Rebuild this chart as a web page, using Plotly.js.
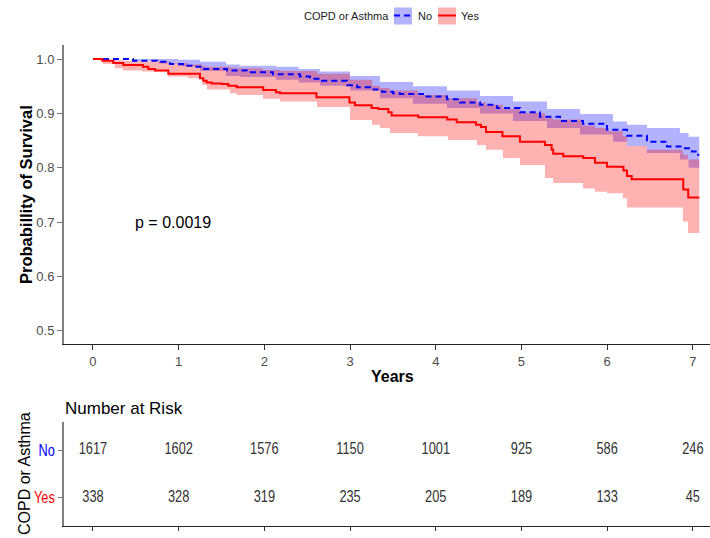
<!DOCTYPE html>
<html>
<head>
<meta charset="utf-8">
<script src="https://cdn.plot.ly/plotly-3.0.1.min.js"></script>
<style>
  html, body { margin: 0; padding: 0; background: #fff; }
  #chart { width: 710px; height: 538px; }
</style>
</head>
<body>
<div id="chart"></div>
<script>
// Kaplan-Meier estimates, group "No" (no COPD or asthma)
const noTime = [0, 0.467, 0.747, 0.898, 1.050, 1.167, 1.284, 1.564, 1.797, 2.100, 2.415, 2.532, 2.672, 2.964, 3.081, 3.232, 3.372, 3.501, 3.582, 3.851, 4.131, 4.282, 4.516, 4.714, 4.982, 5.216, 5.450, 5.718, 5.998, 6.231, 6.464, 6.698, 6.884, 6.989, 7.060, 7.075];
const noSurv = [1.000, 0.997, 0.995, 0.991, 0.988, 0.986, 0.982, 0.979, 0.976, 0.972, 0.968, 0.964, 0.960, 0.952, 0.948, 0.944, 0.940, 0.937, 0.936, 0.931, 0.926, 0.920, 0.916, 0.910, 0.902, 0.894, 0.886, 0.881, 0.870, 0.859, 0.848, 0.839, 0.836, 0.830, 0.824, 0.824];

// 95% confidence band, group "No"
const noBandTime = [0, 0.467, 0.760, 0.992, 1.250, 1.552, 1.715, 2.135, 2.400, 2.649, 3.000, 3.349, 3.734, 4.131, 4.516, 4.901, 5.298, 5.683, 6.068, 6.231, 6.464, 6.849, 6.950, 7.075];
const noUpper = [1.000, 1.000, 1.000, 0.999, 0.995, 0.990, 0.988, 0.986, 0.982, 0.977, 0.969, 0.958, 0.950, 0.942, 0.932, 0.922, 0.908, 0.899, 0.885, 0.879, 0.873, 0.864, 0.857, 0.855];
const noLower = [1.000, 0.997, 0.992, 0.987, 0.978, 0.969, 0.967, 0.962, 0.957, 0.951, 0.942, 0.928, 0.918, 0.910, 0.900, 0.886, 0.873, 0.861, 0.848, 0.840, 0.827, 0.815, 0.800, 0.796];

// Kaplan-Meier estimates, group "Yes" (COPD or asthma)
const yesTime = [0, 0.109, 0.237, 0.354, 0.583, 0.645, 0.723, 0.879, 1.249, 1.287, 1.327, 1.385, 1.502, 1.579, 1.677, 1.987, 2.135, 2.182, 2.608, 2.993, 3.057, 3.252, 3.329, 3.446, 3.485, 3.796, 4.134, 4.244, 4.469, 4.527, 4.586, 4.778, 4.982, 5.274, 5.352, 5.371, 5.488, 5.721, 5.858, 5.998, 6.190, 6.231, 6.286, 6.888, 6.946, 7.075];
const yesSurv = [1.000, 0.997, 0.993, 0.989, 0.986, 0.982, 0.979, 0.973, 0.965, 0.960, 0.957, 0.955, 0.954, 0.951, 0.948, 0.943, 0.939, 0.937, 0.930, 0.920, 0.915, 0.910, 0.908, 0.902, 0.896, 0.893, 0.889, 0.884, 0.879, 0.875, 0.866, 0.858, 0.848, 0.842, 0.833, 0.826, 0.821, 0.818, 0.809, 0.802, 0.795, 0.785, 0.779, 0.760, 0.745, 0.745];

// 95% confidence band, group "Yes"
const yesBandTime = [0, 0.117, 0.257, 0.350, 0.572, 0.875, 1.109, 1.272, 1.330, 1.599, 1.680, 1.984, 2.182, 2.614, 3.000, 3.256, 3.349, 3.466, 3.792, 4.142, 4.481, 4.586, 4.784, 4.982, 5.274, 5.368, 5.718, 5.858, 5.998, 6.184, 6.231, 6.464, 6.884, 6.943, 7.075];
const yesUpper = [1.000, 0.999, 0.998, 0.997, 0.996, 0.993, 0.990, 0.987, 0.986, 0.984, 0.983, 0.980, 0.978, 0.973, 0.962, 0.951, 0.947, 0.942, 0.934, 0.928, 0.920, 0.916, 0.908, 0.901, 0.892, 0.889, 0.878, 0.873, 0.867, 0.858, 0.840, 0.833, 0.824, 0.815, 0.815];
const yesLower = [1.000, 0.991, 0.983, 0.979, 0.977, 0.968, 0.965, 0.953, 0.944, 0.937, 0.934, 0.927, 0.922, 0.912, 0.888, 0.879, 0.873, 0.864, 0.858, 0.851, 0.842, 0.833, 0.818, 0.805, 0.781, 0.772, 0.762, 0.756, 0.753, 0.744, 0.727, 0.727, 0.701, 0.680, 0.680];

// Number at risk table
const riskTimes = [0, 1, 2, 3, 4, 5, 6, 7];
const riskNo = [1617, 1602, 1576, 1150, 1001, 925, 586, 246];
const riskYes = [338, 328, 319, 235, 205, 189, 133, 45];
const groupLabels = ["No", "Yes"];
const pValueText = "p = 0.0019";

const W = 710, H = 538;
const PX = p => p / W;          // page pixel -> paper x
const PY = p => 1 - p / H;      // page pixel -> paper y

const BASE_FONT = "Liberation Sans, Arial, sans-serif";
const BLUE = "#0000ff", RED = "#ff0000";
const BLUE_FILL = "rgba(0,0,255,0.30)", RED_FILL = "rgba(255,0,0,0.30)";

function band(t, lo, hi, fill) {
  return [
    { x: t, y: lo, mode: "lines", line: { width: 0, shape: "hv" }, hoverinfo: "skip", showlegend: false, xaxis: "x", yaxis: "y" },
    { x: t, y: hi, mode: "lines", line: { width: 0, shape: "hv" }, fill: "tonexty", fillcolor: fill, hoverinfo: "skip", showlegend: false, xaxis: "x", yaxis: "y" }
  ];
}

const tableFont = { family: BASE_FONT, size: 16, color: "#333333" };

const traces = [
  ...band(noBandTime, noLower, noUpper, BLUE_FILL),
  ...band(yesBandTime, yesLower, yesUpper, RED_FILL),
  { x: noTime, y: noSurv, mode: "lines", name: groupLabels[0], line: { color: BLUE, width: 2, dash: "6px,4px", shape: "hv" }, showlegend: false, xaxis: "x", yaxis: "y" },
  { x: yesTime, y: yesSurv, mode: "lines", name: groupLabels[1], line: { color: RED, width: 2, shape: "hv" }, showlegend: false, xaxis: "x", yaxis: "y" },
  // risk table cells
  { x: riskTimes, y: riskTimes.map(() => 2), text: riskNo.map(String), mode: "text", textposition: "middle center",
    textfont: tableFont, hoverinfo: "skip", showlegend: false, xaxis: "x2", yaxis: "y2" },
  { x: riskTimes, y: riskTimes.map(() => 1), text: riskYes.map(String), mode: "text", textposition: "middle center",
    textfont: tableFont, hoverinfo: "skip", showlegend: false, xaxis: "x2", yaxis: "y2" }
];

const xRange = [-0.338, 7.2];

function label(text, x, y, font, extra) {
  return Object.assign({ text, xref: "paper", yref: "paper", x: PX(x), y: PY(y),
    xanchor: "center", yanchor: "middle", showarrow: false, font }, extra || {});
}

const layout = {
  width: W, height: H,
  margin: { l: 0, r: 0, t: 0, b: 0 },
  paper_bgcolor: "#ffffff", plot_bgcolor: "#ffffff",
  font: { family: BASE_FONT, color: "#000000" },
  showlegend: false,
  xaxis: {
    domain: [PX(64), 1], range: xRange, anchor: "y",
    tickmode: "array", tickvals: riskTimes, ticktext: riskTimes.map(String),
    ticks: "outside", ticklen: 5, tickcolor: "#333333", tickwidth: 1,
    tickfont: { size: 13, color: "#4d4d4d" },
    showline: true, linecolor: "#222222", linewidth: 1,
    showgrid: false, zeroline: false
  },
  yaxis: {
    domain: [PY(344), PY(45)], range: [0.4755, 1.026], anchor: "x",
    tickmode: "array", tickvals: [0.5, 0.6, 0.7, 0.8, 0.9, 1.0], ticktext: ["0.5", "0.6", "0.7", "0.8", "0.9", "1.0"],
    ticks: "outside", ticklen: 5, tickcolor: "#777777", tickwidth: 1,
    tickfont: { size: 13, color: "#4d4d4d" },
    showline: true, linecolor: "#7f7f7f", linewidth: 2,
    showgrid: false, zeroline: false
  },
  xaxis2: {
    domain: [PX(64), 1], range: xRange, anchor: "y2",
    tickmode: "array", tickvals: riskTimes, showticklabels: false,
    ticks: "outside", ticklen: 4, tickcolor: "#333333", tickwidth: 1,
    showline: true, linecolor: "#222222", linewidth: 1,
    showgrid: false, zeroline: false
  },
  yaxis2: {
    domain: [PY(526), PY(422)], range: [0.4, 2.6], anchor: "x2",
    tickmode: "array", tickvals: [2, 1],
    ticktext: ['<span style="color:' + BLUE + '">' + groupLabels[0] + '</span>', '<span style="color:' + RED + '">' + groupLabels[1] + '</span>'],
    ticks: "outside", ticklen: 4, tickcolor: "#777777", tickwidth: 1,
    tickfont: { size: 16 },
    showline: true, linecolor: "#7f7f7f", linewidth: 2,
    showgrid: false, zeroline: false
  },
  annotations: [
    label("Probabillity of Survival", 26, 195, { size: 16.5, weight: "bold", color: "#000" }, { textangle: -90 }),
    label("Years", 392, 376, { size: 16, weight: "bold", color: "#000" }),
    { text: pValueText, xref: "x", yref: "y", x: 0.933, y: 0.7, xanchor: "center", yanchor: "middle",
      showarrow: false, font: { size: 16, color: "#000" } },
    label("Number at Risk", 63, 408, { size: 17, color: "#000" }, { xanchor: "left" }),
    label("COPD or Asthma", 24, 474, { size: 16, color: "#000" }, { textangle: -90 }),
    // legend labels
    label("COPD or Asthma", 346, 15.5, { size: 11, color: "#1a1a1a" }),
    label(groupLabels[0], 416, 15.5, { size: 11, color: "#1a1a1a" }, { xanchor: "left" }),
    label(groupLabels[1], 459, 15.5, { size: 11, color: "#1a1a1a" }, { xanchor: "left" })
  ],
  shapes: [
    // legend keys
    { type: "rect", xref: "paper", yref: "paper", x0: PX(394), x1: PX(412), y0: PY(24.5), y1: PY(7.5), fillcolor: BLUE_FILL, line: { width: 0 } },
    { type: "line", xref: "paper", yref: "paper", x0: PX(394), x1: PX(412), y0: PY(15.5), y1: PY(15.5), line: { color: BLUE, width: 2, dash: "6px,4px" } },
    { type: "rect", xref: "paper", yref: "paper", x0: PX(438), x1: PX(456), y0: PY(24.5), y1: PY(7.5), fillcolor: RED_FILL, line: { width: 0 } },
    { type: "line", xref: "paper", yref: "paper", x0: PX(438), x1: PX(456), y0: PY(15.5), y1: PY(15.5), line: { color: RED, width: 2 } }
  ]
};

// The risk table is set in a condensed face: squeeze glyphs horizontally.
function condense(el, factor) {
  const w = el.getComputedTextLength();
  if (w > 0) {
    el.setAttribute("textLength", (w * factor).toFixed(2));
    el.setAttribute("lengthAdjust", "spacingAndGlyphs");
  }
}

Plotly.newPlot("chart", traces, layout, { staticPlot: true, displayModeBar: false }).then(gd => {
  gd.querySelectorAll("g.textpoint text").forEach(el => condense(el, 0.8));
  gd.querySelectorAll("g.y2tick text").forEach(el => condense(el, 0.8));
});
</script>
</body>
</html>
